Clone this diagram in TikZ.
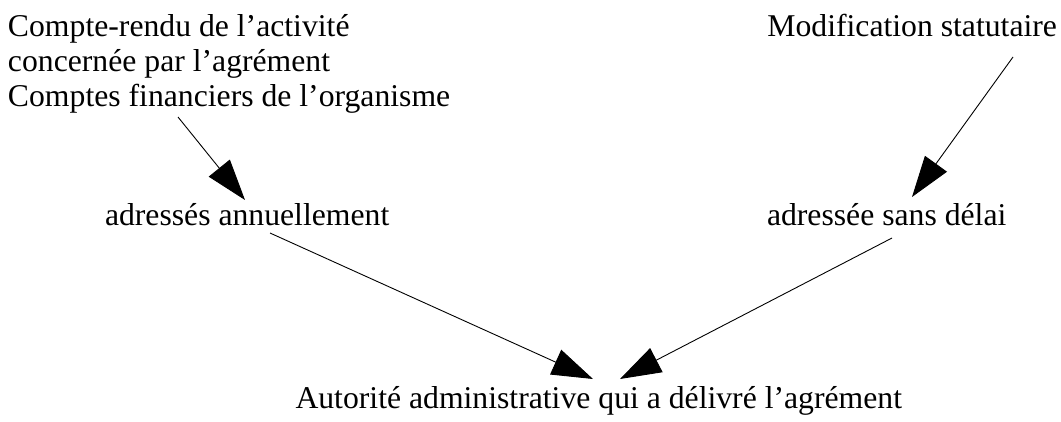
\documentclass[tikz,border=0pt]{standalone}
\usepackage{fontspec}
\setmainfont{Liberation Serif}
\usetikzlibrary{arrows.meta}
\begin{document}
\begin{tikzpicture}[x=1pt,y=-1pt,
  lbl/.style={inner sep=0pt,outer sep=0pt,font=\fontsize{31.7}{35}\selectfont},
  conn/.style={line width=0.9pt,-{Triangle[length=41pt,width=27pt]}}]
\useasboundingbox[fill=white] (0,0) rectangle (1061,421);
\node[lbl,anchor=base west,align=left] (src1) at (8,106.7)
  {Compte-rendu de l’activité\\concernée par l’agrément\\Comptes financiers de l’organisme};
\node[lbl,anchor=base east] (src2) at (1057,36) {Modification statutaire};
\node[lbl,anchor=base west] (mid1) at (105,225) {adressés annuellement};
\node[lbl,anchor=base west] (mid2) at (767,225) {adressée sans délai};
\node[lbl,anchor=base east] (dst) at (902,408) {Autorité administrative qui a délivré l’agrément};
\coordinate (s1) at (178,117);
\coordinate (t1) at (245,200);
\coordinate (s2) at (1013,57);
\coordinate (t2) at (912,197);
\coordinate (s3) at (270,233);
\coordinate (t3) at (593,379);
\coordinate (s4) at (892,238);
\coordinate (t4) at (620,379);
\draw[conn] (s1) -- (t1);
\draw[conn] (s2) -- (t2);
\draw[conn] (s3) -- (t3);
\draw[conn] (s4) -- (t4);
\end{tikzpicture}
\end{document}
